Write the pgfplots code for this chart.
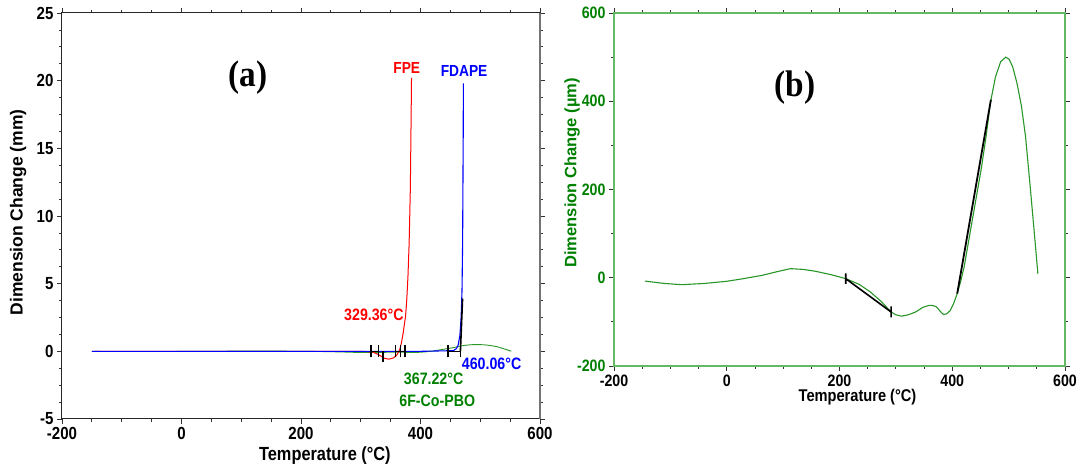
\documentclass[border=0pt]{standalone}
\usepackage{fontspec}
\setmainfont{Liberation Sans}[FakeStretch=0.86]
\newfontfamily\plainsans{Liberation Sans}
\newfontfamily\serifst{Liberation Serif}[FakeStretch=0.9]
\usepackage{pgfplots}
\usepackage{pgfplotstable}
\pgfplotsset{compat=1.18}
\definecolor{dgreen}{RGB}{0,128,0}
\definecolor{cgreen}{RGB}{40,150,40}
\definecolor{sgreen}{RGB}{100,185,100}

\pgfplotstableread{
T v
-145 -7.6
-110 -13
-80 -15.7
-40 -13
0 -8
30 -2
63 5.5
90 14
113 20.6
135 19
156 15
185 7
211 -2
235 -15
254.6 -32
275 -55
291.6 -77.6
300 -84
310 -87
322 -84
335 -77.6
348 -67
359 -62.5
366 -63
372 -66
378 -75
384 -83
390 -82
396 -75
402 -60
408.8 -36
415 -8
421 24
430 90
439.6 160
452 251
460 320
467.4 394.5
476.6 455
486 490
495 500
501 495
507.5 477
515 440
523 387
530 320
538.3 206
545 110
551.9 9
}\greendata

\pgfplotstableread{
T v
-150 0
0 0
200 0
300 0
320 -0.05
330 -0.25
340 -0.52
347 -0.58
355 -0.48
360 -0.3
365 0.1
368 0.6
371 1.35
375 2.6
377 3.8
379 5.5
381 8
383 12
384 16
385 20.2
}\reddata

\pgfplotstableread{
T v
-150 0
0 0
200 0
400 0
455 0.05
460 0.2
463 0.45
466 1.2
468 2.5
469.5 4.5
470.5 8
471 12
471.5 16
471.8 19.8
}\bluedata

\begin{document}
\begin{tikzpicture}
\useasboundingbox (0,0) rectangle (1085pt,468pt);
% ---------------- panel (a)
\begin{axis}[
  at={(62pt,49pt)}, anchor=south west, scale only axis,
  width=478pt, height=406pt,
  xmin=-200, xmax=600, ymin=-5, ymax=25,
  xtick={-200,0,200,400,600}, ytick={-5,0,5,10,15,20,25},
  minor x tick num=3, minor y tick num=3,
  tick align=outside, major tick length=5pt, minor tick length=3pt,
  tick style={black!80, line width=0.8pt},
  axis line style={black!85, line width=1pt},
  /pgf/number format/assume math mode=true,
  ticklabel style={font=\fontsize{17.5}{17.5}\selectfont\bfseries},
  xlabel={Temperature (°C)},
  xlabel style={font=\fontsize{19}{19}\selectfont\bfseries, at={(axis description cs:0.55,-0.089)}, anchor=center},
  ylabel={Dimension Change (mm)},
  ylabel style={font=\plainsans\fontsize{17.5}{17.5}\selectfont\bfseries, at={(axis description cs:-0.092,0.509)}, anchor=center},
  clip=false,
  unbounded coords=jump,
]
\addplot[cgreen, line width=0.9pt] table[x=T, y expr=\thisrow{v}/1000] {\greendata};
\addplot[red, line width=1pt] table[x=T,y=v] {\reddata};
\addplot[blue, line width=1.1pt] table[x=T,y=v] {\bluedata};
% tangent markers
\addplot[black, line width=1.4pt] coordinates {
 (317,0) (330,0) (nan,nan)
 (358,0) (374,0) (nan,nan)
 (446,0) (466.5,0) (nan,nan)
 (317,-0.45) (317,0.45) (nan,nan)
 (330,-0.45) (330,0.45) (nan,nan)
 (337,-0.8) (337,0.05) (nan,nan)
 (358,-0.45) (358,0.45) (nan,nan)
 (367,-0.45) (367,0.45) (nan,nan)
 (374,-0.45) (374,0.45) (nan,nan)
 (446,-0.45) (446,0.45) (nan,nan)
 (466.5,-0.45) (466.5,0.45)
};
\addplot[black, line width=1.6pt] coordinates {(466.8,0) (470.4,3.9)};
\draw[black!55, line width=1.6pt] (rel axis cs:1,0) -- (rel axis cs:1,1);
\node[font=\serifst\fontsize{37}{37}\selectfont\bfseries] at (axis cs:111,20.2) {(a)};
\node[red, font=\fontsize{16}{16}\selectfont\bfseries] at (axis cs:377,20.9) {FPE};
\node[blue, font=\fontsize{16}{16}\selectfont\bfseries] at (axis cs:473,20.7) {FDAPE};
\node[red, font=\fontsize{16.5}{16.5}\selectfont\bfseries] at (axis cs:322,2.7) {329.36°C};
\node[blue, font=\fontsize{16.5}{16.5}\selectfont\bfseries] at (axis cs:519,-0.93) {460.06°C};
\node[dgreen, font=\fontsize{16.5}{16.5}\selectfont\bfseries] at (axis cs:422,-2.03) {367.22°C};
\node[dgreen, font=\fontsize{16.5}{16.5}\selectfont\bfseries] at (axis cs:428,-3.63) {6F-Co-PBO};
\end{axis}
% ---------------- panel (b)
\begin{axis}[
  at={(614pt,102pt)}, anchor=south west, scale only axis,
  width=451pt, height=353pt,
  xmin=-200, xmax=600, ymin=-200, ymax=600,
  xtick={-200,0,200,400,600}, ytick={-200,0,200,400,600},
  minor x tick num=3, minor y tick num=1,
  tick align=outside, major tick length=5pt, minor tick length=3pt,
  tick style={black!80, line width=0.8pt},
  x axis line style={black!85, line width=1pt},
  y axis line style={sgreen, line width=1.2pt},
  /pgf/number format/assume math mode=true,
  ticklabel style={font=\fontsize{16.5}{16.5}\selectfont\bfseries},
  yticklabel style={dgreen},
  xlabel={Temperature (°C)},
  xlabel style={font=\fontsize{17}{17}\selectfont\bfseries, at={(axis description cs:0.54,-0.088)}, anchor=center},
  ylabel={Dimension Change (µm)},
  ylabel style={dgreen, font=\plainsans\fontsize{16.5}{16.5}\selectfont\bfseries, at={(axis description cs:-0.093,0.547)}, anchor=center},
  clip=false,
  unbounded coords=jump,
]
\addplot[cgreen, line width=1.1pt] table[x=T,y=v] {\greendata};
\addplot[black, line width=1.6pt] coordinates {
 (211,-2) (291.6,-77.6) (nan,nan)
 (211,-14) (211,10) (nan,nan)
 (291.6,-90) (291.6,-65)
};
\addplot[black, line width=1.8pt] coordinates {(408.8,-36) (468.6,403.6)};
\node[font=\serifst\fontsize{37}{37}\selectfont\bfseries] at (axis cs:121,430) {(b)};
\end{axis}
\end{tikzpicture}
\end{document}
